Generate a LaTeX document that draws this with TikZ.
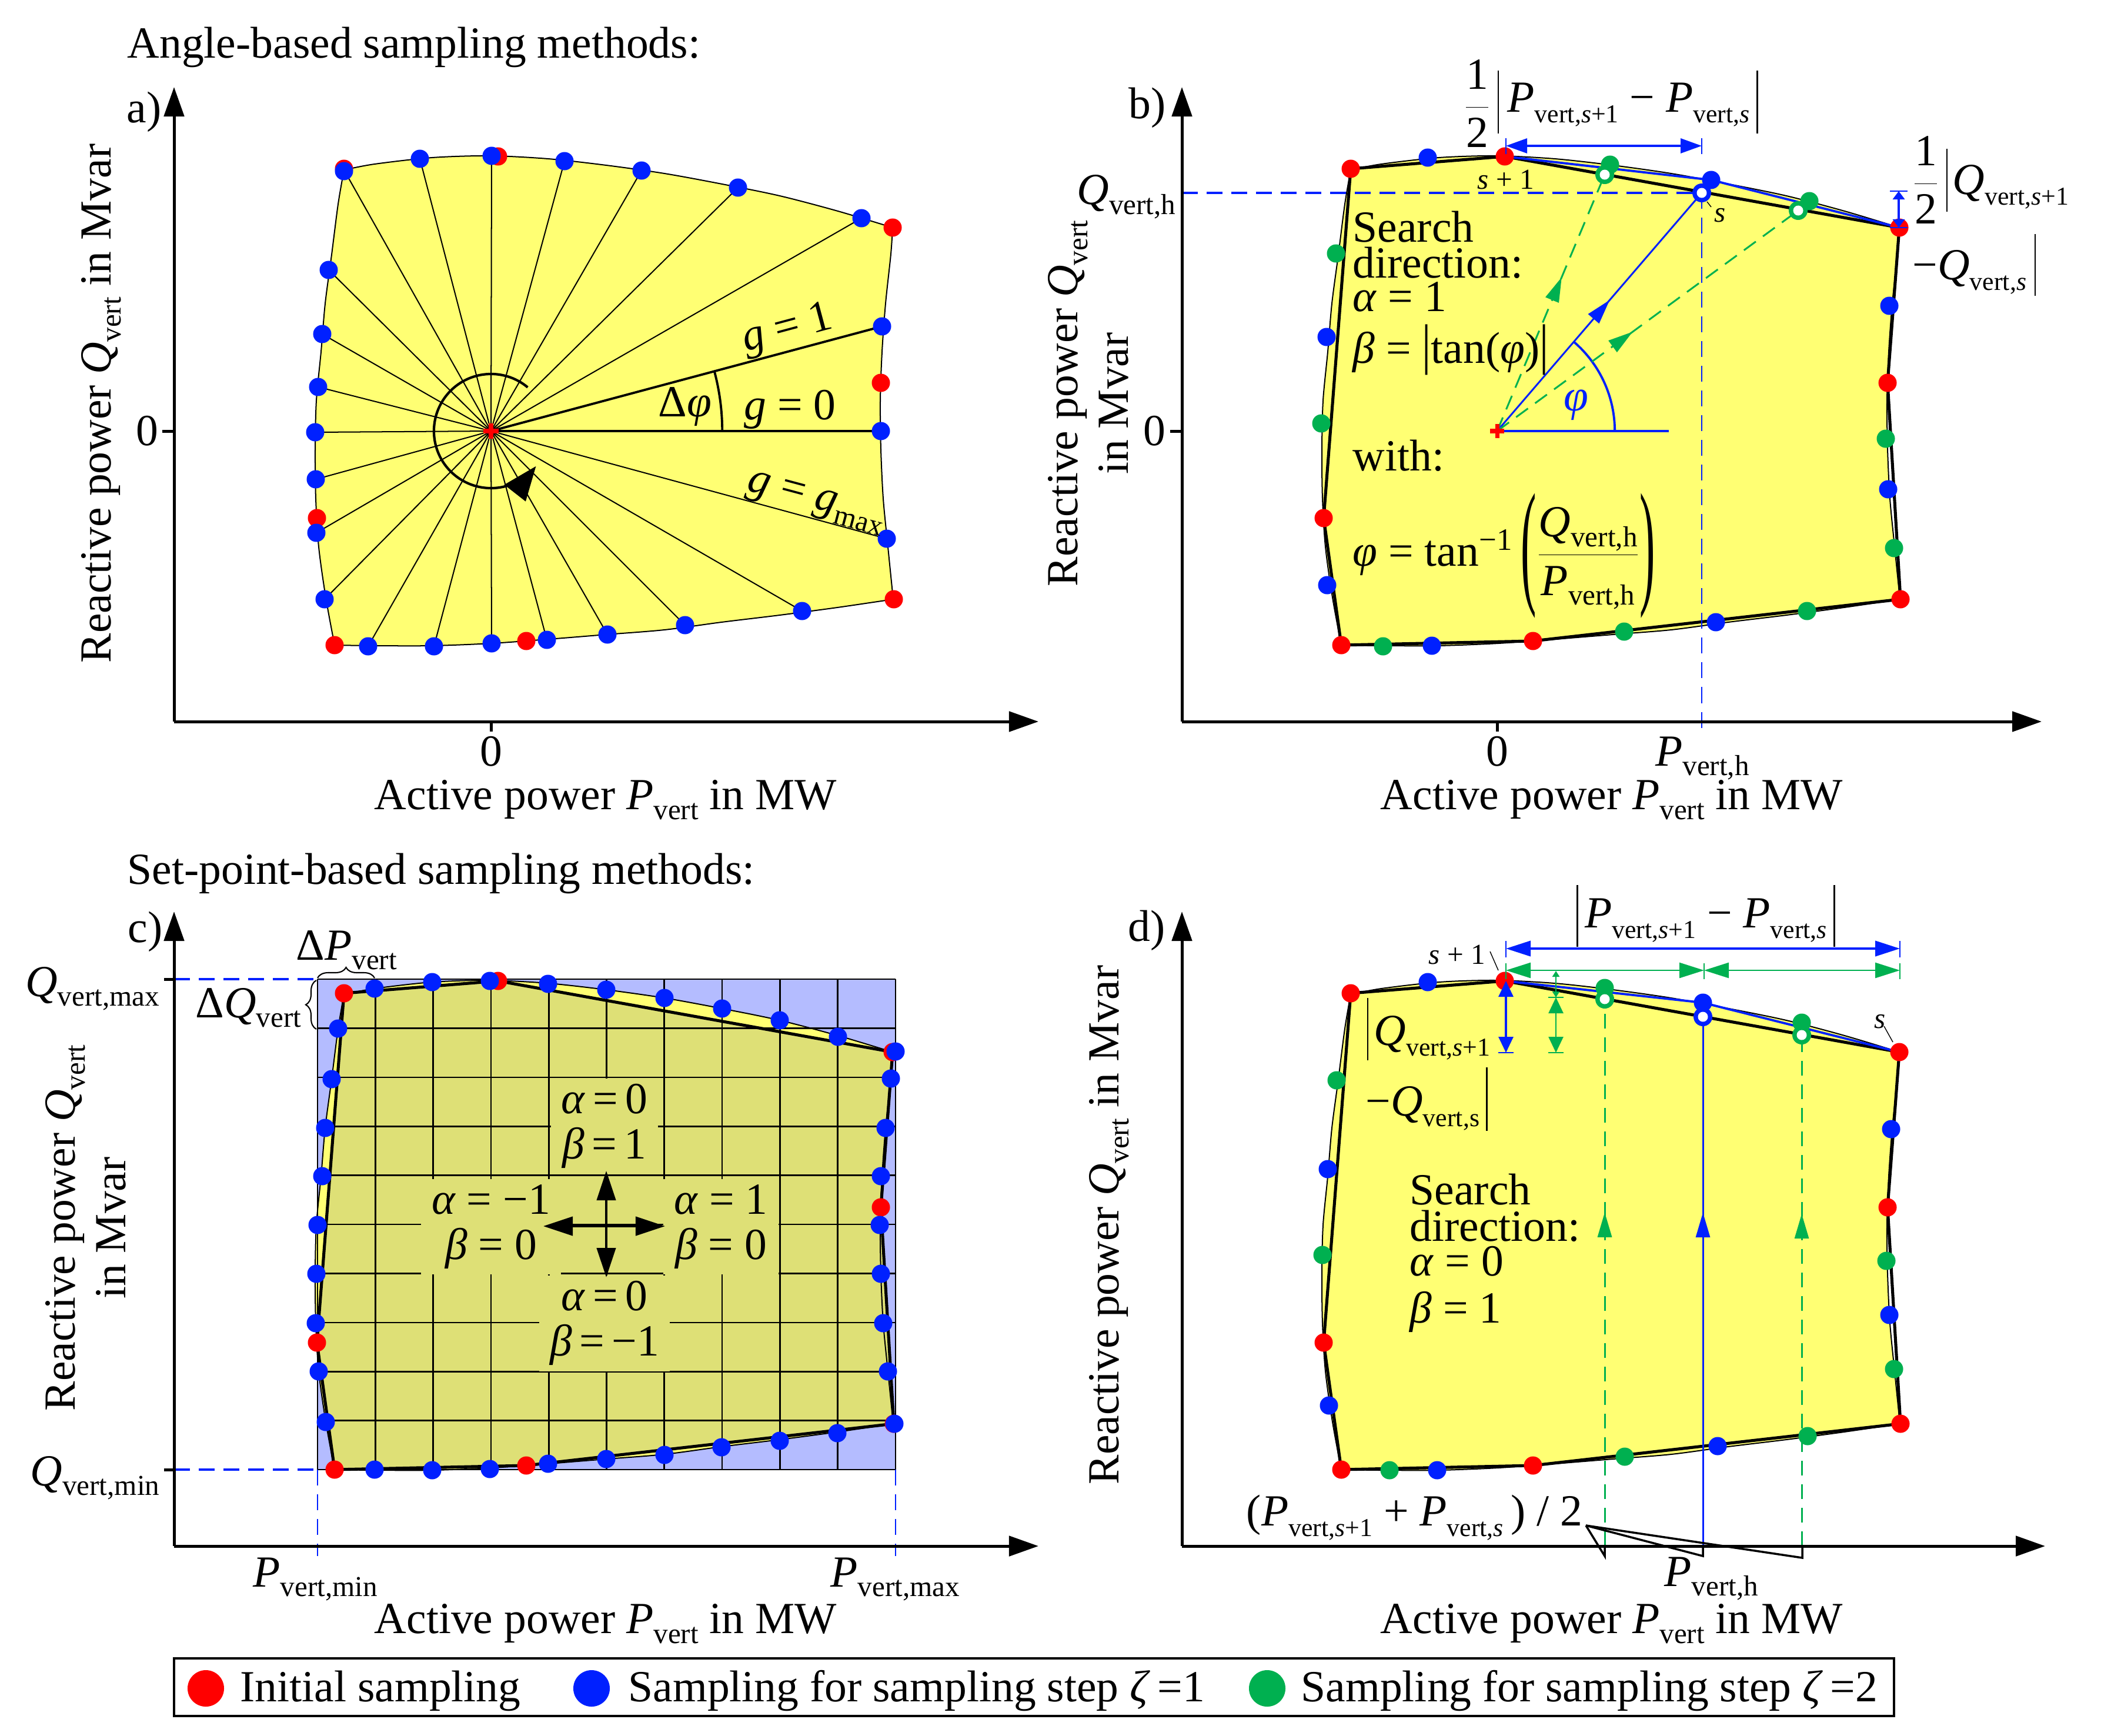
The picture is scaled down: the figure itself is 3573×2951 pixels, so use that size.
\documentclass[tikz,border=0pt]{standalone}
\usepackage{fontspec}
\setmainfont{Liberation Serif}
\usepackage{graphicx}
\usetikzlibrary{arrows.meta,decorations.pathreplacing,decorations.markings,calc}
\definecolor{yel}{RGB}{255,255,115}
\definecolor{kha}{RGB}{222,224,118}
\definecolor{lav}{RGB}{180,188,255}
\definecolor{bl}{RGB}{0,32,255}
\definecolor{gr}{RGB}{0,176,80}
\definecolor{rd}{RGB}{255,0,0}
\newcommand{\sbs}[1]{\raisebox{-0.22em}{\scalebox{0.65}{#1}}}
\newcommand{\sbn}[1]{\raisebox{-0.24em}{\scalebox{0.58}{#1}}}
\newcommand{\Qv}{\textit{Q}\sbs{vert}}
\newcommand{\Pv}{\textit{P}\sbs{vert}}
\newcommand{\tallparen}[1]{\raisebox{-0.52em}{\scalebox{1.05}[3.1]{#1}}}
\newcommand{\bndry}[1]{\path[#1] plot[smooth,tension=0.5] coordinates {(585,289) (637,279) (735,268) (833,265) (932,270) (1031,281) (1130,295) (1228,313) (1326,333) (1425,359) (1518,387)} -- plot[smooth,tension=0.5] coordinates {(1518,387) (1515,432) (1506,516) (1500,598) (1497,681) (1498,764) (1502,848) (1510,930) (1519,1019)} -- plot[smooth,tension=0.5] coordinates {(1519,1019) (1424,1033) (1326,1046) (1227,1058) (1130,1071) (1031,1079) (932,1087) (836,1094) (735,1098) (637,1098) (569,1097)} -- plot[smooth,tension=0.5] coordinates {(569,1097) (554,1016) (542,930) (537,848) (536,764) (538,681) (546,598) (553,516) (564,433) (575,347) (585,289)} -- cycle;}
\newcommand{\hullp}[1]{\path[#1] (585,287) -- (847,266) -- (1518,387) -- (1498,651) -- (1520,1019) -- (895,1090) -- (569,1097) -- (539,881) -- cycle;}
\newcommand{\reds}{\foreach \p in {(585,287),(847,266),(1518,387),(1498,651),(1520,1019),(895,1090),(569,1097),(539,881)} \fill[rd] \p circle (0.155cm);}
\begin{document}
\begin{tikzpicture}[x=0.01cm,y=-0.01cm,
 every node/.style={inner sep=0pt,font=\fontsize{21.5}{24}\selectfont},
 axar/.style={line width=1.42pt,-{Triangle[length=0.5cm,width=0.34cm]}},
 axtick/.style={line width=1.42pt},
 bthin/.style={line width=0.57pt},
 hullst/.style={line width=1.45pt},
 ray/.style={line width=0.57pt},
 dsh/.style={dash pattern=on 0.27cm off 0.15cm},
 smalltxt/.style={font=\fontsize{14}{16}\selectfont},
 barln/.style={line width=0.8pt},
 midarr/.style={postaction={decorate,decoration={markings,mark=at position #1 with {\arrow{Triangle[length=0.42cm,width=0.24cm]}}}}},
 dimar/.style={{Triangle[length=0.36cm,width=0.25cm]}-{Triangle[length=0.36cm,width=0.25cm]}},
 abox/.style={fill=kha,inner xsep=0.18cm,inner ysep=0.1cm,align=center,font=\fontsize{21.5}{21.8}\selectfont},
 yl2/.style={rotate=90,align=center,font=\fontsize{21.5}{24.5}\selectfont}]
\useasboundingbox (0,0) rectangle (3573,2951);

% ================= panel a =================
\node[anchor=base west] (ta) at (216,98) {Angle-based sampling methods:};
\coordinate (Oa) at (296,1227);
\coordinate (Ca) at (835,733);
\bndry{fill=yel}
\foreach \p in {(1465,371),(1255,319),(1091,290),(960,274),(836,265),(714,270),(585,289),(559,459),(548,568),(541,658),(536,735),(537,815),(538,906),(552,1019),(626,1099),(738,1099),(836,1094),(930,1088),(1033,1079),(1165,1063),(1364,1039),(1508,916)} \draw[ray] (Ca) -- \p;
\draw[line width=1.1pt] (Ca) -- (1498,733);
\draw[line width=1.1pt] (Ca) -- (1500,555);
\bndry{draw,bthin}
\draw[line width=1.1pt] ($(Ca)+(0:3.93cm)$) arc[start angle=0,end angle=15,radius=3.93cm];
\draw[line width=1.2pt,-{Triangle[length=0.58cm,width=0.45cm]}] ($(Ca)+(50:0.97cm)$) arc[start angle=50,end angle=322,radius=0.97cm];
\reds
\foreach \p in {(1498,733),(1500,555),(1465,371),(1255,319),(1091,290),(960,274),(836,265),(714,270),(585,291),(559,459),(548,568),(541,658),(536,735),(537,815),(538,906),(552,1019),(626,1099),(738,1099),(836,1094),(930,1088),(1033,1079),(1165,1063),(1364,1039),(1508,916)} \fill[bl] \p circle (0.155cm);
\draw[rd,line width=2pt] (822,733) -- (848,733) (835,720) -- (835,746);
\draw[axar] (Oa) -- (296,148);
\draw[axar] (Oa) -- (1766,1227);
\draw[axtick] (835,1227) -- (835,1244);
\draw[axtick] (276,733) -- (296,733);
\node (la) at (245,190) {a)};
\node (xa0) at (835,1278) {0};
\node (ya0) at (250,733) {0};
\node[rotate=90] (yla) at (172,686) {Reactive power \Qv{} in Mvar};
\node (xla) at (1030,1360) {Active power \Pv{} in MW};
\node[anchor=base west,rotate=15] (g1) at (1268,598) {\textit{g} = 1};
\node[anchor=base west] (g0) at (1265,713) {\textit{g} = 0};
\node[anchor=base west,rotate=-15] (gm) at (1268,833) {\textit{g} = \textit{g}\sbs{max}};
\node[anchor=base west] (dphi) at (1119,708) {Δ\textit{φ}};

% ================= panel b =================
\coordinate (Ob) at (2010,1227);
\coordinate (Cb) at (2546,733);
\coordinate (ob) at (2894,328);
\coordinate (og1) at (2729,297);
\coordinate (og2) at (3058,358);
\coordinate (sb1) at (2559,266);
\coordinate (bbd) at (2910,306);
\coordinate (trb) at (3230,387);
\begin{scope}[shift={(1712,0)}]
 \bndry{fill=yel}
 \bndry{draw,bthin}
 \hullp{draw,hullst}
\end{scope}
\draw[bl,line width=1.1pt] (sb1) -- (bbd) -- (trb);
\draw[bl,line width=1.1pt] (Cb) -- (2838,733);
\draw[bl,line width=1.1pt] ($(Cb)+(0:2cm)$) arc[start angle=0,end angle=49,radius=2cm];
\draw[bl,line width=0.85pt,midarr=0.55] (Cb) -- (ob);
\draw[gr,line width=0.85pt,dash pattern=on 0.25cm off 0.15cm,midarr=0.6] (Cb) -- (og1);
\draw[gr,line width=0.85pt,dash pattern=on 0.25cm off 0.15cm,midarr=0.45] (Cb) -- (og2);
\draw[bl,line width=1.1pt,dsh] (2010,328) -- (ob);
\draw[bl,line width=0.8pt,dsh] (ob) -- (2894,1244);
\begin{scope}[shift={(1712,0)}]\reds\end{scope}
\foreach \p in {(2428,268),(2910,306),(3213,520),(3211,832),(2918,1058),(2435,1098),(2257,995),(2256,573)} \fill[bl] \p circle (0.155cm);
\foreach \p in {(2738,280),(3077,342),(3207,746),(3221,932),(3073,1039),(2762,1074),(2352,1099),(2247,720),(2272,431)} \fill[gr] \p circle (0.155cm);
\fill[bl] (ob) circle (0.16cm); \fill[white] (ob) circle (0.085cm);
\fill[gr] (og1) circle (0.16cm); \fill[white] (og1) circle (0.085cm);
\fill[gr] (og2) circle (0.16cm); \fill[white] (og2) circle (0.085cm);
\draw[rd,line width=2pt] (2534,733) -- (2558,733) (2546,721) -- (2546,745);
\draw[axar] (Ob) -- (2010,148);
\draw[axar] (Ob) -- (3472,1227);
\draw[axtick] (2546,1227) -- (2546,1244);
\draw[axtick] (1990,733) -- (2010,733);
\node (lb) at (1951,183) {b)};
\node (xb0) at (2546,1278) {0};
\node (yb0) at (1963,733) {0};
\node[yl2] (ylb) at (1851,686) {Reactive power \Qv\\in Mvar};
\node (xlb) at (2741,1360) {Active power \Pv{} in MW};
\node[anchor=north] (pvh) at (2895,1252) {\textit{P}\sbs{vert,h}};
\node[anchor=east] (qvh) at (2000,335) {\textit{Q}\sbs{vert,h}};
\node[anchor=base west] (sb-1) at (2300,411) {Search};
\node[anchor=base west] (sb-2) at (2300,472) {direction:};
\node[anchor=base west] (sb-3) at (2300,529) {\textit{α} = 1};
\node[anchor=base west] (sb-4) at (2300,617) {\textit{β} = \scalebox{1}[1.25]{|}tan(\textit{φ})\scalebox{1}[1.25]{|}};
\node[anchor=base west] (sb-5) at (2300,800) {with:};
\node[anchor=base west] (sb-6) at (2300,962) {\textit{φ} = tan\textsuperscript{−1}\,\tallparen{(}$\displaystyle\frac{\mbox{\textit{Q}\sbs{vert,h}}}{\mbox{\textit{P}\sbs{vert,h}}}$\tallparen{)}};
\node[bl] (phib) at (2680,689) {\textit{φ}};
\node (frb1) at (2512,176) {$\displaystyle\frac{\mbox{1}}{\mbox{2}}$};
\node[anchor=base west] (pdb) at (2563,190) {\textit{P}\sbn{vert,\textit{s}+1} − \textit{P}\sbn{vert,\textit{s}}};
\coordinate (pdbR) at ([xshift=0.12cm]pdb.east);
\draw[barln] (2548,120) -- (2548,227) (pdbR |- 0,120) -- (pdbR |- 0,227);
\node (frb2) at (3275,306) {$\displaystyle\frac{\mbox{1}}{\mbox{2}}$};
\node[anchor=base west] (qb1) at (3320,330) {\textit{Q}\sbn{vert,\textit{s}+1}};
\node[anchor=base west] (qb2) at (3252,475) {−\textit{Q}\sbn{vert,\textit{s}}};
\coordinate (qb2R) at ([xshift=0.14cm]qb2.east);
\draw[barln] (3311,253) -- (3311,360) (qb2R |- 0,398) -- (qb2R |- 0,503);
\draw[bl,line width=0.9pt,dimar] (2561,248) -- (2894,248);
\draw[bl,line width=0.5pt] (2561,235) -- (2561,262) (2894,235) -- (2894,262);
\draw[bl,line width=0.9pt,{Triangle[length=0.14cm,width=0.2cm]}-{Triangle[length=0.14cm,width=0.2cm]}] (3229,325) -- (3229,387);
\draw[bl,line width=0.5pt] (3214,325) -- (3244,325) (3214,387) -- (3244,387);
\node[smalltxt] (sp1b) at (2561,305) {\textit{s} + 1};
\draw[line width=0.4pt] (2903,343) -- (2910,352);
\node[smalltxt] (ssb) at (2925,366) {\textit{s}};

% ================= panel c =================
\node[anchor=base west] (tc) at (216,1503) {Set-point-based sampling methods:};
\coordinate (Oc) at (296,2629);
\coordinate (Cc) at (1031,2085);
\fill[lav] (540,1665) rectangle (1523,2499);
\begin{scope}[shift={(0,1402)}]
 \bndry{fill=yel}
 \hullp{fill=kha}
\end{scope}
\foreach \i in {0,...,10} {
 \draw[line width=0.75pt] (540+98.3*\i,1665) -- (540+98.3*\i,2499);
 \draw[line width=0.75pt] (540,1665+83.4*\i) -- (1523,1665+83.4*\i);
}
\begin{scope}[shift={(0,1402)}]
 \bndry{draw,bthin}
 \hullp{draw,hullst}
 \reds
\end{scope}
\foreach \p in {(637,1681),(735,1670),(833,1668),(932,1673),(1031,1683),(1130,1697),(1228,1715),(1326,1735),(1425,1763),(1523,1788),(1515,1834),(1506,1918),(1498,2000),(1496,2083),(1498,2166),(1502,2250),(1510,2332),(1521,2421),(1424,2437),(1326,2450),(1227,2461),(1130,2474),(1031,2481),(932,2489),(833,2498),(735,2500),(637,2499),(554,2418),(542,2332),(537,2250),(538,2166),(540,2083),(548,2000),(553,1918),(564,1835),(575,1749)} \fill[bl] \p circle (0.155cm);
\node[abox] (ab1) at (1028,1915) {\textit{α}\,=\,0\\\textit{β}\,=\,1};
\node[abox] (ab2) at (835,2086) {\textit{α} = −1\\\textit{β} = 0};
\node[abox] (ab3) at (1226,2086) {\textit{α} = 1\\\textit{β} = 0};
\node[abox] (ab4) at (1028,2250) {\textit{α}\,=\,0\\\textit{β}\,=\,−1};
\foreach \q in {(1031,1991),(1031,2172),(924,2085),(1131,2085)} \draw[line width=1.2pt,-{Triangle[length=0.5cm,width=0.32cm]}] (Cc) -- \q;
\draw[bl,line width=1.1pt,dsh] (296,1665) -- (540,1665);
\draw[bl,line width=1.1pt,dsh] (296,2499) -- (540,2499);
\draw[bl,line width=0.6pt,dsh] (540,2499) -- (540,2646);
\draw[bl,line width=0.6pt,dsh] (1523,2499) -- (1523,2646);
\draw[axar] (Oc) -- (296,1550);
\draw[axar] (Oc) -- (1766,2629);
\draw[axtick] (279,1665) -- (296,1665) (279,2499) -- (296,2499);
\draw[line width=0.6pt,decorate,decoration={brace,amplitude=0.18cm}] (540,1663) -- (637,1663);
\draw[line width=0.6pt,decorate,decoration={brace,amplitude=0.18cm}] (538,1750) -- (538,1667);
\node (lc) at (247,1584) {c)};
\node[anchor=base east] (qmax) at (272,1694) {\textit{Q}\sbs{vert,max}};
\node[anchor=base east] (qmin) at (272,2526) {\textit{Q}\sbs{vert,min}};
\node[anchor=base west] (pmin) at (430,2698) {\textit{P}\sbs{vert,min}};
\node[anchor=base west] (pmax) at (1412,2698) {\textit{P}\sbs{vert,max}};
\node[anchor=base west] (dpv) at (503,1632) {Δ\textit{P}\sbs{vert}};
\node[anchor=base west] (dqv) at (332,1730) {Δ\textit{Q}\sbs{vert}};
\node[yl2] (ylc) at (146,2088) {Reactive power \Qv\\in Mvar};
\node (xlc) at (1030,2761) {Active power \Pv{} in MW};

% ================= panel d =================
\coordinate (Od) at (2010,2629);
\coordinate (sd1) at (2559,1668);
\coordinate (bdd) at (2896,1705);
\coordinate (trd) at (3230,1789);
\coordinate (od) at (2896,1729);
\coordinate (odg1) at (2729,1699);
\coordinate (odg2) at (3064,1760);
\begin{scope}[shift={(1712,1402)}]
 \bndry{fill=yel}
 \bndry{draw,bthin}
 \hullp{draw,hullst}
\end{scope}
\draw[bl,line width=1.1pt] (sd1) -- (bdd) -- (trd);
\draw[bl,line width=0.85pt,midarr=0.63] (2896,2629) -- (od);
\draw[gr,line width=0.85pt,dash pattern=on 0.25cm off 0.15cm,midarr=0.61] (2729,2629) -- (odg1);
\draw[gr,line width=0.85pt,dash pattern=on 0.25cm off 0.15cm,midarr=0.65] (3064,2629) -- (odg2);
\begin{scope}[shift={(1712,1402)}]\reds\end{scope}
\foreach \p in {(2428,1670),(2896,1705),(3216,1920),(3213,2236),(2921,2459),(2444,2500),(2260,2390),(2258,1988)} \fill[bl] \p circle (0.155cm);
\foreach \p in {(2729,1680),(3064,1739),(3208,2144),(3221,2328),(3074,2442),(2763,2477),(2363,2500),(2249,2134),(2273,1837)} \fill[gr] \p circle (0.155cm);
\fill[bl] (od) circle (0.16cm); \fill[white] (od) circle (0.085cm);
\fill[gr] (odg1) circle (0.16cm); \fill[white] (odg1) circle (0.085cm);
\fill[gr] (odg2) circle (0.16cm); \fill[white] (odg2) circle (0.085cm);
\draw[axar] (Od) -- (2010,1550);
\draw[axar] (Od) -- (3478,2629);
\draw[bl,line width=1.1pt,{Triangle[length=0.42cm,width=0.26cm]}-{Triangle[length=0.42cm,width=0.26cm]}] (2561,1613) -- (3231,1613);
\draw[bl,line width=0.5pt] (2561,1600) -- (2561,1628) (3231,1600) -- (3231,1628);
\draw[gr,line width=0.75pt,{Triangle[length=0.42cm,width=0.26cm]}-{Triangle[length=0.42cm,width=0.26cm]}] (2561,1650) -- (2898,1650);
\draw[gr,line width=0.75pt,{Triangle[length=0.42cm,width=0.26cm]}-{Triangle[length=0.42cm,width=0.26cm]}] (2898,1650) -- (3231,1650);
\draw[gr,line width=0.5pt] (2561,1638) -- (2561,1665) (2898,1638) -- (2898,1665) (3231,1638) -- (3231,1665);
\draw[bl,line width=0.9pt,{Triangle[length=0.27cm,width=0.25cm]}-{Triangle[length=0.27cm,width=0.25cm]}] (2561,1668) -- (2561,1790);
\draw[bl,line width=0.5pt] (2548,1790) -- (2574,1790);
\draw[gr,line width=0.75pt,{Triangle[length=0.1cm,width=0.12cm]}-{Triangle[length=0.1cm,width=0.12cm]}] (2646,1651) -- (2646,1696);
\draw[gr,line width=0.75pt,{Triangle[length=0.27cm,width=0.25cm]}-{Triangle[length=0.27cm,width=0.25cm]}] (2646,1696) -- (2646,1790);
\draw[gr,line width=0.5pt] (2633,1696) -- (2659,1696) (2633,1790) -- (2659,1790);
\node[anchor=base] (pdd) at (2901,1577) {\textit{P}\sbn{vert,\textit{s}+1} − \textit{P}\sbn{vert,\textit{s}}};
\coordinate (pddL) at ([xshift=-0.12cm]pdd.west);
\coordinate (pddR) at ([xshift=0.12cm]pdd.east);
\draw[barln] (pddL |- 0,1505) -- (pddL |- 0,1610) (pddR |- 0,1505) -- (pddR |- 0,1610);
\node[anchor=base west] (qd1) at (2336,1777) {\textit{Q}\sbn{vert,\textit{s}+1}};
\node[anchor=base west] (qd2) at (2322,1897) {−\textit{Q}\sbn{vert,s}};
\coordinate (qd2R) at ([xshift=0.12cm]qd2.east);
\draw[barln] (2326,1697) -- (2326,1803) (qd2R |- 0,1815) -- (qd2R |- 0,1923);
\node[anchor=base west] (sd-1) at (2397,2048) {Search};
\node[anchor=base west] (sd-2) at (2397,2110) {direction:};
\node[anchor=base west] (sd-3) at (2397,2169) {\textit{α} = 0};
\node[anchor=base west] (sd-4) at (2397,2249) {\textit{β} = 1};
\node[smalltxt] (sp1d) at (2478,1623) {\textit{s} + 1};
\draw[line width=0.4pt] (2534,1618) -- (2548,1650);
\node[smalltxt] (ssd) at (3197,1737) {\textit{s}};
\draw[line width=0.4pt] (3204,1745) -- (3219,1772);
\node[anchor=base east] (avg) at (2692,2594) {(\textit{P}\sbn{vert,\textit{s}+1} + \textit{P}\sbn{vert,\textit{s}}\,) / 2};
\coordinate (avgE) at (2697,2594);
\draw[line width=1pt] (avgE) -- (2729,2646) -- (2729,2629);
\draw[line width=1pt] (avgE) -- (2896,2646) -- (2896,2629);
\draw[line width=1pt] (avgE) -- (3065,2649) -- (3065,2629);
\node[anchor=base west] (pvhd) at (2830,2697) {\textit{P}\sbs{vert,h}};
\node (ld) at (1950,1582) {d)};
\node[rotate=90] (yld) at (1886,2083) {Reactive power \Qv{} in Mvar};
\node (xld) at (2741,2761) {Active power \Pv{} in MW};

% ================= legend =================
\draw[line width=1.2pt] (296,2820) rectangle (3221,2918);
\fill[rd] (350,2871) circle (0.31cm);
\fill[bl] (1006,2871) circle (0.31cm);
\fill[gr] (2155,2871) circle (0.31cm);
\node[anchor=base west] (lg1) at (408,2893) {Initial sampling};
\node[anchor=base west] (lg2) at (1068,2893) {Sampling for sampling step \textit{ζ}\,=1};
\node[anchor=base west] (lg3) at (2212,2893) {Sampling for sampling step \textit{ζ}\,=2};
\end{tikzpicture}
\end{document}
